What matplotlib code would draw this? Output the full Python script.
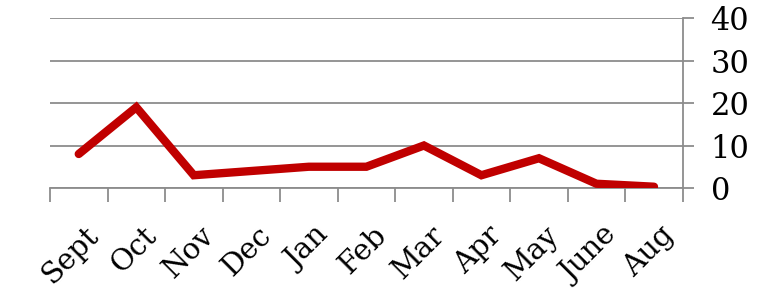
import matplotlib.pyplot as plt
import matplotlib.transforms as mtransforms

months = ["Sept", "Oct", "Nov", "Dec", "Jan", "Feb", "Mar", "Apr", "May", "June", "Aug"]
values = [8, 19, 3, 4, 5, 5, 10, 3, 7, 1, 0.3]
y_ticks = [0, 10, 20, 30, 40]

plt.rcParams['font.family'] = ['DejaVu Serif']

fig = plt.figure(figsize=(7.62, 2.91), dpi=100)
ax = fig.add_axes([0.0656, 0.354, 0.8304, 0.584])

x = list(range(len(months)))
ax.plot(x, values, color='#C00000', linewidth=6, solid_capstyle='round',
        solid_joinstyle='miter', zorder=3)

ax.set_xlim(-0.5, len(months) - 0.5)
ax.set_ylim(0, 40)

grid_col = '#8c8c8c'
ax.set_yticks(y_ticks)
ax.grid(axis='y', color=grid_col, linewidth=1.3)
ax.yaxis.tick_right()
ax.tick_params(axis='y', direction='out', length=8, width=1.3, color=grid_col,
               pad=12, labelsize=22)

ax.set_xticks(x)
ax.set_xticklabels(months, rotation=45, ha='right', rotation_mode='anchor', fontsize=21)
ax.tick_params(axis='x', which='major', length=0, pad=24)
shift = mtransforms.ScaledTranslation(6 / 100, 0, fig.dpi_scale_trans)
for lbl in ax.get_xticklabels():
    lbl.set_transform(lbl.get_transform() + shift)
ax.set_xticks([i - 0.5 for i in range(len(months) + 1)], minor=True)
ax.tick_params(axis='x', which='minor', direction='out', length=10, width=1.3, color=grid_col)

for s in ['top', 'left']:
    ax.spines[s].set_visible(False)
ax.spines['bottom'].set_color(grid_col)
ax.spines['bottom'].set_linewidth(1.3)
ax.spines['right'].set_color(grid_col)
ax.spines['right'].set_linewidth(1.3)
ax.spines['right'].set_bounds(0, 40)

fig.savefig("out.png", dpi=100)
